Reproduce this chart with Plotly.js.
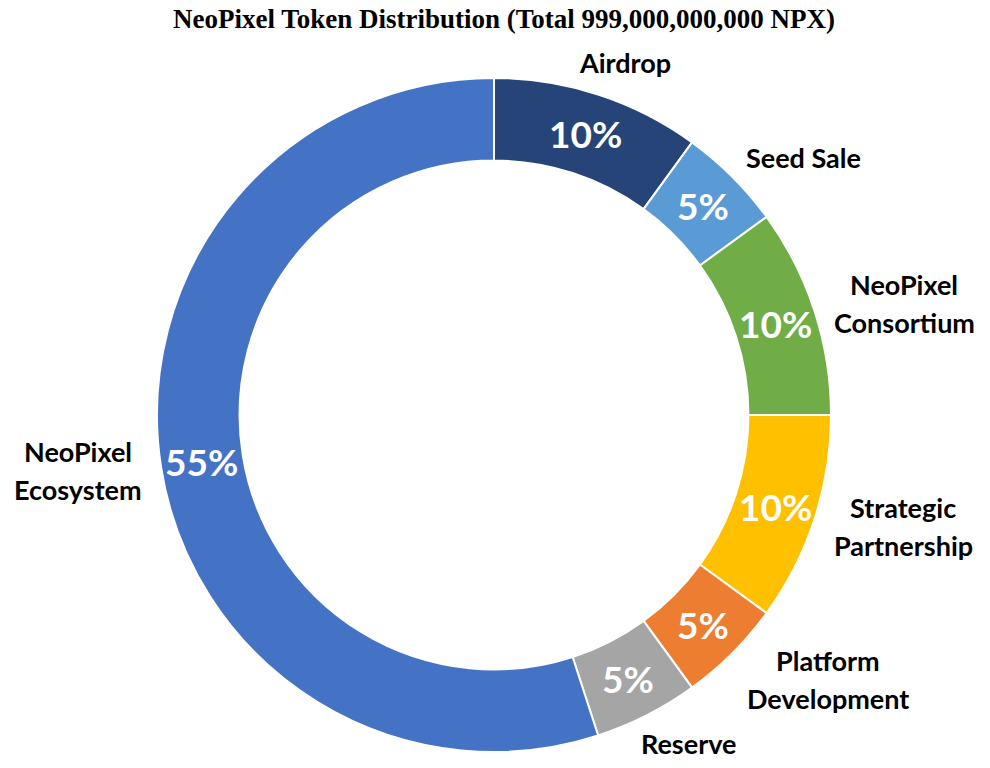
<!DOCTYPE html>
<html><head><meta charset="utf-8">
<script src="https://cdn.plot.ly/plotly-3.0.1.min.js"></script>
<style>html,body{margin:0;padding:0;background:#fff}</style></head>
<body><div id="chart" style="width:990px;height:768px"></div>
<script>
const categories = ["Airdrop","Seed Sale","NeoPixel Consortium","Strategic Partnership","Platform Development","Reserve","NeoPixel Ecosystem"];
const labelLines = [["Airdrop"],["Seed Sale"],["NeoPixel","Consortium"],["Strategic","Partnership"],["Platform","Development"],["Reserve"],["NeoPixel","Ecosystem"]];
const shares = [10,5,10,10,5,5,55];
const colors = ["#264478","#5B9BD5","#70AD47","#FFC000","#ED7D31","#A5A5A5","#4472C4"];
const titleText = "NeoPixel Token Distribution (Total 999,000,000,000 NPX)";

const W = 990, H = 768;
const margin = {l:157, r:159, t:78, b:16, pad:0};
const hole = 0.755;
const labelFont = "Lato";
const labelSize = 27;
const pctSize = 37;
const lineH = 38;
const gap = 20;

function draw(){
  const pw = W - margin.l - margin.r, ph = H - margin.t - margin.b;
  const R = Math.min(pw, ph) / 2;
  const cx = margin.l + pw / 2, cy = margin.t + ph / 2;
  const ctx = document.createElement('canvas').getContext('2d');
  ctx.font = "bold " + labelSize + "px " + labelFont;
  const total = shares.reduce((a,b)=>a+b,0);
  const toPaper = (px, py) => ({x: (px - margin.l) / pw, y: 1 - (py - margin.t) / ph});
  const annotations = [];
  let cum = 0;
  shares.forEach((v, i) => {
    const mid = (cum + v/2) / total * 2 * Math.PI;
    cum += v;
    const ux = Math.sin(mid), uy = -Math.cos(mid);
    // percentage label in the middle of the ring
    const rm = R * (1 + hole) / 2;
    const pp = toPaper(cx + rm * ux, cy + rm * uy);
    annotations.push({
      text: Math.round(v / total * 100) + '%', showarrow: false, xref: 'paper', yref: 'paper',
      x: pp.x, y: pp.y, xanchor: 'center', yanchor: 'middle',
      font: {family: labelFont, size: pctSize, color: '#ffffff', weight: 'bold'}
    });
    // category label outside the ring
    const lines = labelLines[i];
    const w = Math.max(...lines.map(s => ctx.measureText(s).width));
    const h = (lines.length - 1) * lineH + 30;
    const ax = cx + (R + gap) * ux, ay = cy + (R + gap) * uy;
    const bx = ax + Math.sign(ux) * Math.min(1, Math.abs(ux) * 1.5) * w / 2;
    const by = ay + Math.pow(uy, 3) * h / 2;
    lines.forEach((s, j) => {
      const ly = by + (j - (lines.length - 1) / 2) * lineH;
      const lp = toPaper(bx, ly);
      annotations.push({
        text: s, showarrow: false, xref: 'paper', yref: 'paper',
        x: lp.x, y: lp.y, xanchor: 'center', yanchor: 'middle',
        font: {family: labelFont, size: labelSize, color: '#000', weight: 'bold'}
      });
    });
  });

  const trace = {
    type: 'pie', labels: categories, values: shares, hole: hole,
    sort: false, direction: 'clockwise', rotation: 0,
    textinfo: 'none',
    marker: {colors: colors, line: {color: '#ffffff', width: 2}},
    hoverinfo: 'none', showlegend: false
  };
  const layout = {
    width: W, height: H, margin: margin,
    paper_bgcolor: '#ffffff', plot_bgcolor: '#ffffff',
    title: {text: titleText, x: 504/W, xref: 'container', xanchor: 'center',
            y: 1 - 19/H, yref: 'container', yanchor: 'middle',
            font: {family: 'Liberation Serif', size: 27, color: '#000', weight: 'bold'}},
    annotations: annotations, showlegend: false
  };
  Plotly.newPlot('chart', [trace], layout, {displayModeBar: false, staticPlot: true});
}
if (document.fonts && document.fonts.load) {
  document.fonts.load("bold " + labelSize + "px " + labelFont).then(draw, draw);
} else { draw(); }
</script></body></html>
